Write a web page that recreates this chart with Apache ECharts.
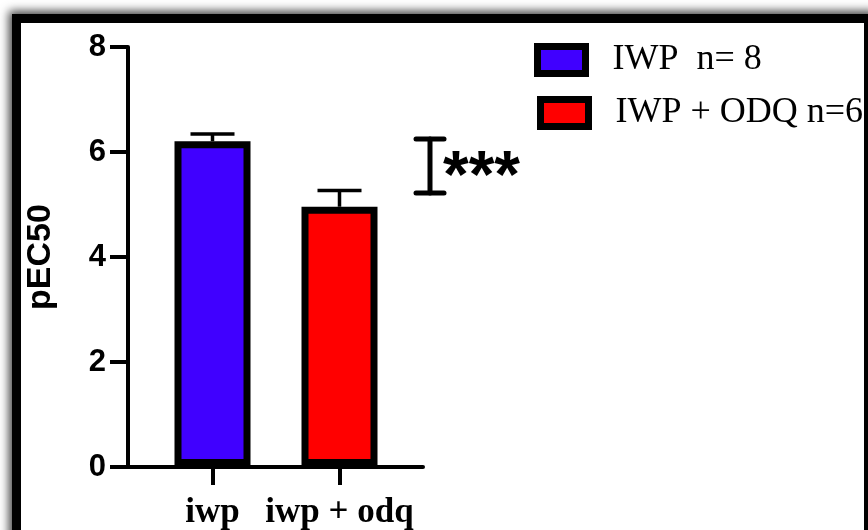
<!DOCTYPE html>
<html>
<head>
<meta charset="utf-8">
<script src="https://cdn.jsdelivr.net/npm/echarts@6/dist/echarts.min.js"></script>
<style>
  html, body { margin: 0; padding: 0; background: #fff; }
  body { width: 868px; height: 530px; position: relative; overflow: hidden; }
  #frame {
    position: absolute; left: 12px; top: 14px; width: 843px; height: 620px;
    border: 9px solid #000; background: #fff;
    box-shadow: 0 0 9px 3px rgba(0,0,0,0.75);
  }
  #chart { position: absolute; left: 0; top: 0; width: 868px; height: 530px; }
</style>
</head>
<body>
<div id="frame"></div>
<div id="chart"></div>
<script>
// Group labels and summary statistics (mean ± SEM of pEC50)
const categories = ['iwp', 'iwp + odq'];
const seriesNames = ['IWP  n= 8', 'IWP + ODQ n=6'];
const means = [6.2, 4.95];
const sems = [0.14, 0.31];
const barColors = ['#4000ff', '#ff0000'];
// Y-axis range and tick spacing
const yMin = 0, yMax = 8, yStep = 2;
// Significance bracket span and marker
const bracketLow = 5.22, bracketHigh = 6.25;
const sigText = '***';

const chart = echarts.init(document.getElementById('chart'), null, { renderer: 'canvas' });

const sansFamily = '"Liberation Sans", Arial, sans-serif';
const serif = '"Liberation Serif", "Times New Roman", serif';

const barSeries = seriesNames.map((name, i) => ({
  name,
  type: 'bar',
  xAxisIndex: 1, yAxisIndex: 1,
  barWidth: 76,
  barGap: '-100%',
  data: categories.map((c, j) => (j === i ? means[j] : '-')),
  itemStyle: { color: barColors[i], borderColor: '#000', borderWidth: 7 },
  z: 2
}));

const errorSeries = {
  type: 'custom',
  xAxisIndex: 1, yAxisIndex: 1,
  data: means.map((m, i) => [i, m, m + sems[i]]),
  renderItem(params, api) {
    const base = api.coord([api.value(0), api.value(1)]);
    const top = api.coord([api.value(0), api.value(2)]);
    const half = 22;
    const style = { stroke: '#000', lineWidth: 3.5 };
    return {
      type: 'group',
      children: [
        { type: 'line', shape: { x1: base[0], y1: base[1], x2: top[0], y2: top[1] }, style },
        { type: 'line', shape: { x1: top[0] - half, y1: top[1], x2: top[0] + half, y2: top[1] }, style }
      ]
    };
  },
  z: 1
};

const bracketSeries = {
  type: 'custom',
  xAxisIndex: 2, yAxisIndex: 2,
  clip: false,
  data: [[0.5, bracketLow, bracketHigh]],
  renderItem(params, api) {
    const lo = api.coord([api.value(0), api.value(1)]);
    const hi = api.coord([api.value(0), api.value(2)]);
    const half = 14;
    const style = { stroke: '#000', lineWidth: 5, lineCap: 'round' };
    return {
      type: 'group',
      children: [
        { type: 'line', shape: { x1: lo[0], y1: lo[1], x2: hi[0], y2: hi[1] }, style },
        { type: 'line', shape: { x1: lo[0] - half, y1: lo[1], x2: lo[0] + half, y2: lo[1] }, style },
        { type: 'line', shape: { x1: hi[0] - half, y1: hi[1], x2: hi[0] + half, y2: hi[1] }, style },
        {
          type: 'text',
          style: {
            x: hi[0] + 13, y: (lo[1] + hi[1]) / 2 + 13,
            text: sigText, fill: '#000',
            font: 'bold 66px ' + sansFamily,
            textAlign: 'left', textVerticalAlign: 'middle'
          }
        }
      ]
    };
  }
};

const legendCommon = {
  orient: 'vertical',
  icon: 'rect',
  itemWidth: 48,
  itemHeight: 27,
  itemGap: 10,
  selectedMode: false,
  textStyle: { fontFamily: serif, fontSize: 36, color: '#000', padding: [0, 0, 0, 22] },
  itemStyle: { borderColor: '#000', borderWidth: 7 }
};

chart.setOption({
  animation: false,
  legend: [
    Object.assign({}, legendCommon, { data: [seriesNames[0]], left: 529, top: 37 }),
    Object.assign({}, legendCommon, { data: [seriesNames[1]], left: 532, top: 90 })
  ],
  grid: [
    { left: 128, right: 445, top: 47, bottom: 63 },
    { left: 149, right: 465, top: 47, bottom: 63 },
    { left: 405, right: 413, top: 47, bottom: 63 }
  ],
  xAxis: [
    {
      gridIndex: 0, type: 'value', min: 0, max: 1,
      axisLine: { show: true, lineStyle: { color: '#000', width: 4 } },
      axisTick: { show: false }, axisLabel: { show: false }, splitLine: { show: false }
    },
    {
      gridIndex: 1, type: 'category', data: categories,
      axisLine: { show: false },
      axisTick: { show: true, alignWithLabel: true, length: 19, lineStyle: { color: '#000', width: 4 } },
      axisLabel: {
        interval: 0, hideOverlap: false, margin: 29,
        fontFamily: serif, fontWeight: 'bold', fontSize: 35, color: '#000'
      },
      splitLine: { show: false }
    },
    { gridIndex: 2, type: 'value', min: 0, max: 1, show: false }
  ],
  yAxis: [
    {
      gridIndex: 0, type: 'value', min: yMin, max: yMax, interval: yStep,
      name: 'pEC50', nameLocation: 'middle', nameRotate: 90, nameGap: 70,
      nameTextStyle: { fontFamily: sansFamily, fontWeight: 'bold', fontSize: 34, color: '#000' },
      axisLine: { show: true, lineStyle: { color: '#000', width: 4 } },
      axisTick: { show: true, length: 18, lineStyle: { color: '#000', width: 4 } },
      axisLabel: { margin: 22, fontFamily: sansFamily, fontWeight: 'bold', fontSize: 31, color: '#000' },
      splitLine: { show: false }
    },
    { gridIndex: 1, type: 'value', min: yMin, max: yMax, interval: yStep, show: false },
    { gridIndex: 2, type: 'value', min: yMin, max: yMax, interval: yStep, show: false }
  ],
  series: [...barSeries, errorSeries, bracketSeries]
});
</script>
</body>
</html>
